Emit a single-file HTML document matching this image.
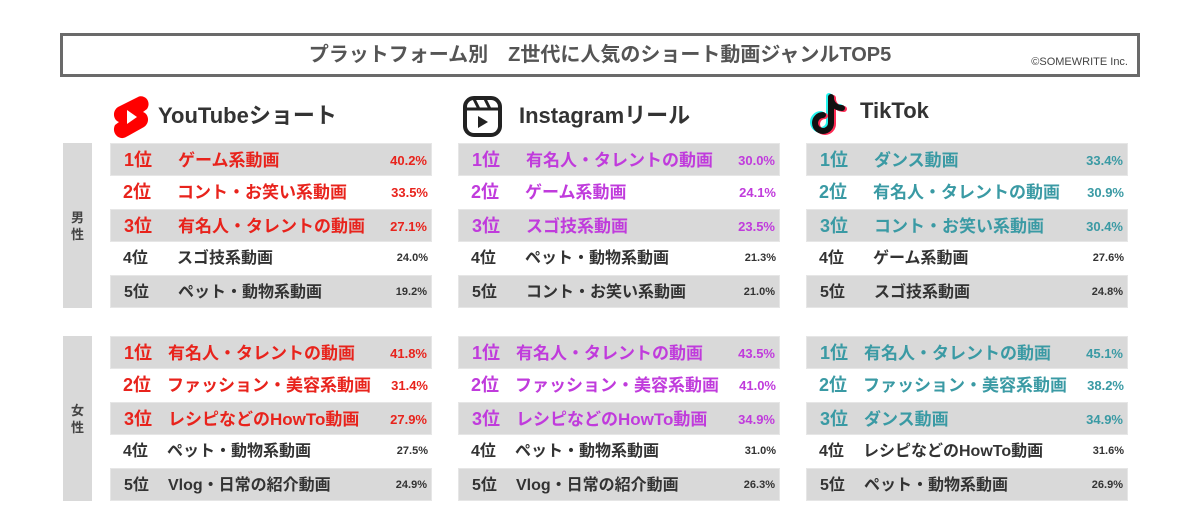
<!DOCTYPE html>
<html><head><meta charset="utf-8">
<style>
body{margin:0;width:1200px;height:528px;background:#fff;position:relative;overflow:hidden;font-family:"Liberation Sans","Noto Sans CJK JP",sans-serif;color:#333}
.abs{position:absolute}
.title{left:60px;top:33px;width:1074px;height:38px;border:3px solid #6a6a6a;text-align:center;font-weight:bold;font-size:20px;line-height:38px;color:#555}
.copy{right:72px;top:56px;font-size:11px;color:#444}
.side{left:63px;width:29px;height:165px;background:#d9d9d9;font-size:13px;font-weight:bold;color:#444;display:flex;align-items:center;justify-content:center;text-align:center;line-height:17px}
.hd{font-size:22px;font-weight:bold;color:#333;top:98px}
.row{height:33px;width:322px;box-sizing:border-box}
.row.g{background:#d9d9d9;border:1px solid #e6e6e6}
.rk{position:absolute;left:13px;top:0;line-height:33px;font-weight:bold}
.nm{position:absolute;top:0;line-height:33px;font-weight:bold;white-space:nowrap}
.pc{position:absolute;right:4px;top:0;line-height:33px;font-weight:bold}
</style></head><body>
<div class="abs title">プラットフォーム別　Z世代に人気のショート動画ジャンルTOP5</div>
<div class="abs copy">©SOMEWRITE Inc.</div>
<div class="abs side" style="top:143px">男<br>性</div>
<div class="abs side" style="top:336px">女<br>性</div>

<svg class="abs" style="left:112px;top:95px" width="38" height="44" viewBox="0 0 38 44">
<path d="M26 2 C32 -1 40 6 35 14 L31 17 C37 19 38 28 32 32 L14 42 C7 46 -1 38 3 30 L7 27 C1 25 0 16 6 12 Z" fill="#f00"/>
<path d="M15 15 L25 22 L15 29 Z" fill="#fff"/></svg>
<div class="abs hd" style="left:158px">YouTubeショート</div>

<svg class="abs" style="left:462px;top:95px" width="42" height="44" viewBox="0 0 42 44">
<rect x="3" y="3" width="35" height="37" rx="9" fill="none" stroke="#222" stroke-width="4"/>
<line x1="3" y1="14" x2="38" y2="14" stroke="#222" stroke-width="3"/>
<line x1="12" y1="4" x2="17" y2="14" stroke="#222" stroke-width="3"/>
<line x1="23" y1="4" x2="28" y2="14" stroke="#222" stroke-width="3"/>
<path d="M16 21 L26 27 L16 33 Z" fill="#222"/></svg>
<div class="abs hd" style="left:519px">Instagramリール</div>

<svg class="abs" style="left:808px;top:93px" width="42" height="46" viewBox="0 0 42 46">
<g fill="none" stroke-width="6" stroke-linecap="round">
<path d="M23 4 V30 A8 8 0 1 1 15 22 M23 6 C24 12 29 15 34 15" stroke="#25f4ee" transform="translate(-2,-1)"/>
<path d="M23 4 V30 A8 8 0 1 1 15 22 M23 6 C24 12 29 15 34 15" stroke="#fe2c55" transform="translate(2,1)"/>
<path d="M23 4 V30 A8 8 0 1 1 15 22 M23 6 C24 12 29 15 34 15" stroke="#111"/></g></svg>
<div class="abs hd" style="left:860px">TikTok</div>

<div id="tables"></div>
<script>
const platforms = ['youtube','instagram','tiktok'];
const ytMaleGenres = ['ゲーム系動画','コント・お笑い系動画','有名人・タレントの動画','スゴ技系動画','ペット・動物系動画'];
const ytMaleValues = [40.2,33.5,27.1,24.0,19.2];
const igMaleGenres = ['有名人・タレントの動画','ゲーム系動画','スゴ技系動画','ペット・動物系動画','コント・お笑い系動画'];
const igMaleValues = [30.0,24.1,23.5,21.3,21.0];
const ttMaleGenres = ['ダンス動画','有名人・タレントの動画','コント・お笑い系動画','ゲーム系動画','スゴ技系動画'];
const ttMaleValues = [33.4,30.9,30.4,27.6,24.8];
const ytFemaleGenres = ['有名人・タレントの動画','ファッション・美容系動画','レシピなどのHowTo動画','ペット・動物系動画','Vlog・日常の紹介動画'];
const ytFemaleValues = [41.8,31.4,27.9,27.5,24.9];
const igFemaleGenres = ['有名人・タレントの動画','ファッション・美容系動画','レシピなどのHowTo動画','ペット・動物系動画','Vlog・日常の紹介動画'];
const igFemaleValues = [43.5,41.0,34.9,31.0,26.3];
const ttFemaleGenres = ['有名人・タレントの動画','ファッション・美容系動画','ダンス動画','レシピなどのHowTo動画','ペット・動物系動画'];
const ttFemaleValues = [45.1,38.2,34.9,31.6,26.9];

const colors = ['#e8231c','#c03bdc','#3a9aa4'];
const lefts = [110,458,806];
const groups = [
 {top:143, nameX:67, sets:[[ytMaleGenres,ytMaleValues],[igMaleGenres,igMaleValues],[ttMaleGenres,ttMaleValues]], g:'male'},
 {top:336, nameX:57, sets:[[ytFemaleGenres,ytFemaleValues],[igFemaleGenres,igFemaleValues],[ttFemaleGenres,ttFemaleValues]], g:'female'}
];
const host = document.getElementById('tables');
groups.forEach(gr=>{
 gr.sets.forEach((set,pi)=>{
  const [genres,vals]=set;
  genres.forEach((gname,i)=>{
   const r=document.createElement('div');
   r.className='abs row'+(i%2===0?' g':'');
   
   
   r.style.left=lefts[pi]+'px'; r.style.top=(gr.top+i*33)+'px';
   const top3=i<3;
   const c=top3?colors[pi]:'#333';
   const rk=document.createElement('span'); rk.className='rk';
   
   
   rk.textContent=(i+1)+'位'; rk.style.color=c; rk.style.fontSize=top3?'18px':'16px';
   if(!top3) rk.style.fontWeight='600';
   const nm=document.createElement('span'); nm.className='nm';
   
   
   nm.textContent=gname; nm.style.color=c; nm.style.left=gr.nameX+'px'; nm.style.fontSize=top3?'17px':'16px';
   const pc=document.createElement('span'); pc.className='pc';
   
   
   pc.textContent=vals[i].toFixed(1)+'%'; pc.style.color=c; pc.style.fontSize=top3?'13px':'11px';
   r.append(rk,nm,pc); host.appendChild(r);
  });
 });
});
</script>
</body></html>
